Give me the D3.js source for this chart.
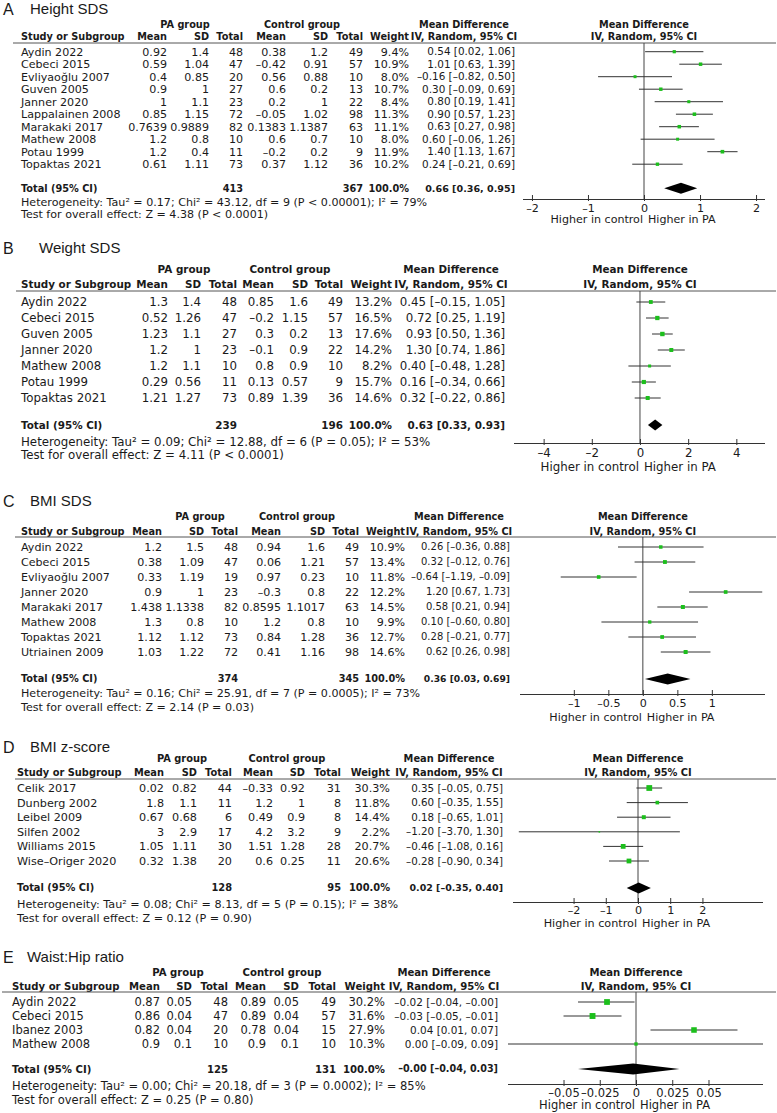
<!DOCTYPE html>
<meta charset="utf-8">
<style>
body { margin: 0; background: #fff; }
svg { display: block; }
.panel text { fill: #1a1a1a; }
.bold { font-weight: bold; }
.title { font-family: "Liberation Sans", Arial, sans-serif; }
.ci { stroke: #333; stroke-width: 1; }
.zero { stroke: #444; stroke-width: 1; }
.rule { stroke: #555; stroke-width: 1; }
.box { fill: #1cbf1c; }
.axis path, .axis line { stroke: #333; }
</style>
<body>
<script src="https://cdn.jsdelivr.net/npm/d3@7"></script>
<script>

// study rows: name, PA mean, PA SD, PA n, control mean, control SD, control n, weight %, MD, lower, upper
var heightRows = [
  ["Aydin 2022", 0.92, 1.4, 48, 0.38, 1.2, 49, 9.4, 0.54, 0.02, 1.06],
  ["Cebeci 2015", 0.59, 1.04, 47, -0.42, 0.91, 57, 10.9, 1.01, 0.63, 1.39],
  ["Evliyaoğlu 2007", 0.4, 0.85, 20, 0.56, 0.88, 10, 8.0, -0.16, -0.82, 0.50],
  ["Guven 2005", 0.9, 1, 27, 0.6, 0.2, 13, 10.7, 0.30, -0.09, 0.69],
  ["Janner 2020", 1, 1.1, 23, 0.2, 1, 22, 8.4, 0.80, 0.19, 1.41],
  ["Lappalainen 2008", 0.85, 1.15, 72, -0.05, 1.02, 98, 11.3, 0.90, 0.57, 1.23],
  ["Marakaki 2017", 0.7639, 0.9889, 82, 0.1383, 1.1387, 63, 11.1, 0.63, 0.27, 0.98],
  ["Mathew 2008", 1.2, 0.8, 10, 0.6, 0.7, 10, 8.0, 0.60, -0.06, 1.26],
  ["Potau 1999", 1.2, 0.4, 11, -0.2, 0.2, 9, 11.9, 1.40, 1.13, 1.67],
  ["Topaktas 2021", 0.61, 1.11, 73, 0.37, 1.12, 36, 10.2, 0.24, -0.21, 0.69]
];
var heightTotal = [413, 367, 0.66, 0.36, 0.95];
var heightHet = ["0.17", "43.12", 9, "P < 0.00001", 79];
var heightTest = ["4.38", "P < 0.0001"];
var heightTicks = [-2, -1, 0, 1, 2];

var weightRows = [
  ["Aydin 2022", 1.3, 1.4, 48, 0.85, 1.6, 49, 13.2, 0.45, -0.15, 1.05],
  ["Cebeci 2015", 0.52, 1.26, 47, -0.2, 1.15, 57, 16.5, 0.72, 0.25, 1.19],
  ["Guven 2005", 1.23, 1.1, 27, 0.3, 0.2, 13, 17.6, 0.93, 0.50, 1.36],
  ["Janner 2020", 1.2, 1, 23, -0.1, 0.9, 22, 14.2, 1.30, 0.74, 1.86],
  ["Mathew 2008", 1.2, 1.1, 10, 0.8, 0.9, 10, 8.2, 0.40, -0.48, 1.28],
  ["Potau 1999", 0.29, 0.56, 11, 0.13, 0.57, 9, 15.7, 0.16, -0.34, 0.66],
  ["Topaktas 2021", 1.21, 1.27, 73, 0.89, 1.39, 36, 14.6, 0.32, -0.22, 0.86]
];
var weightTotal = [239, 196, 0.63, 0.33, 0.93];
var weightHet = ["0.09", "12.88", 6, "P = 0.05", 53];
var weightTest = ["4.11", "P < 0.0001"];
var weightTicks = [-4, -2, 0, 2, 4];

var bmiRows = [
  ["Aydin 2022", 1.2, 1.5, 48, 0.94, 1.6, 49, 10.9, 0.26, -0.36, 0.88],
  ["Cebeci 2015", 0.38, 1.09, 47, 0.06, 1.21, 57, 13.4, 0.32, -0.12, 0.76],
  ["Evliyaoğlu 2007", 0.33, 1.19, 19, 0.97, 0.23, 10, 11.8, -0.64, -1.19, -0.09],
  ["Janner 2020", 0.9, 1, 23, -0.3, 0.8, 22, 12.2, 1.20, 0.67, 1.73],
  ["Marakaki 2017", 1.438, 1.1338, 82, 0.8595, 1.1017, 63, 14.5, 0.58, 0.21, 0.94],
  ["Mathew 2008", 1.3, 0.8, 10, 1.2, 0.8, 10, 9.9, 0.10, -0.60, 0.80],
  ["Topaktas 2021", 1.12, 1.12, 73, 0.84, 1.28, 36, 12.7, 0.28, -0.21, 0.77],
  ["Utriainen 2009", 1.03, 1.22, 72, 0.41, 1.16, 98, 14.6, 0.62, 0.26, 0.98]
];
var bmiTotal = [374, 345, 0.36, 0.03, 0.69];
var bmiHet = ["0.16", "25.91", 7, "P = 0.0005", 73];
var bmiTest = ["2.14", "P = 0.03"];
var bmiTicks = [-1, -0.5, 0, 0.5, 1];

var zRows = [
  ["Celik 2017", 0.02, 0.82, 44, -0.33, 0.92, 31, 30.3, 0.35, -0.05, 0.75],
  ["Dunberg 2002", 1.8, 1.1, 11, 1.2, 1, 8, 11.8, 0.60, -0.35, 1.55],
  ["Leibel 2009", 0.67, 0.68, 6, 0.49, 0.9, 8, 14.4, 0.18, -0.65, 1.01],
  ["Silfen 2002", 3, 2.9, 17, 4.2, 3.2, 9, 2.2, -1.20, -3.70, 1.30],
  ["Williams 2015", 1.05, 1.11, 30, 1.51, 1.28, 28, 20.7, -0.46, -1.08, 0.16],
  ["Wise–Origer 2020", 0.32, 1.38, 20, 0.6, 0.25, 11, 20.6, -0.28, -0.90, 0.34]
];
var zTotal = [128, 95, 0.02, -0.35, 0.40];
var zHet = ["0.08", "8.13", 5, "P = 0.15", 38];
var zTest = ["0.12", "P = 0.90"];
var zTicks = [-2, -1, 0, 1, 2];

var whrRows = [
  ["Aydin 2022", 0.87, 0.05, 48, 0.89, 0.05, 49, 30.2, -0.02, -0.04, -0.001],
  ["Cebeci 2015", 0.86, 0.04, 47, 0.89, 0.04, 57, 31.6, -0.03, -0.05, -0.01],
  ["Ibanez 2003", 0.82, 0.04, 20, 0.78, 0.04, 15, 27.9, 0.04, 0.01, 0.07],
  ["Mathew 2008", 0.9, 0.1, 10, 0.9, 0.1, 10, 10.3, 0.00, -0.09, 0.09]
];
var whrTotal = [125, 131, -0.002, -0.04, 0.03];
var whrHet = ["0.00", "20.18", 3, "P = 0.0002", 85];
var whrTest = ["0.25", "P = 0.80"];
var whrTicks = [-0.05, -0.025, 0, 0.025, 0.05];

// layout of each panel (pixel positions)
var panels = [
  { letter: "A", title: "Height SDS", rows: heightRows, total: heightTotal, het: heightHet, test: heightTest, ticks: heightTicks,
    fs: 11.1, mdK: 0.94, titleY: 9, titleX: 30, groupY: 25, headY: 37, lineY: 43, row0: 51.7, step: 12.5,
    totalY: 188.3, hetY: 202, testY: 214, axisY: 199, tickY: 208, higherY: 219,
    cols: [21, 167, 209, 243, 286, 328, 363, 409, 515], mdHead: 464, paGroup: 185, ctlGroup: 302,
    domain: [-2.16, 2.16], range: [523, 765], lineX0: 13 },
  { letter: "B", title: "Weight SDS", rows: weightRows, total: weightTotal, het: weightHet, test: weightTest, ticks: weightTicks,
    fs: 11.8, mdK: 1, titleY: 248, titleX: 39, groupY: 269, headY: 284, lineY: 291, row0: 302, step: 16,
    totalY: 425, hetY: 442, testY: 455, axisY: 443, tickY: 453, higherY: 467,
    cols: [21, 168, 201, 237, 274, 308, 343, 392, 505], mdHead: 451, paGroup: 184, ctlGroup: 290,
    domain: [-5.23, 5.19], range: [514, 765], lineX0: 16 },
  { letter: "C", title: "BMI SDS", rows: bmiRows, total: bmiTotal, het: bmiHet, test: bmiTest, ticks: bmiTicks,
    fs: 11.1, mdK: 0.9, titleY: 501, titleX: 30, groupY: 517, headY: 532, lineY: 537, row0: 547, step: 15,
    totalY: 679, hetY: 693, testY: 707, axisY: 694, tickY: 703, higherY: 717,
    cols: [21, 162, 204, 238, 281, 325, 359, 405, 510], mdHead: 459, paGroup: 200, ctlGroup: 297,
    domain: [-1.78, 1.77], range: [520, 765], lineX0: 15 },
  { letter: "D", title: "BMI z-score", rows: zRows, total: zTotal, het: zHet, test: zTest, ticks: zTicks,
    fs: 11.2, mdK: 0.92, titleY: 747, titleX: 30, groupY: 759, headY: 773, lineY: 779, row0: 788, step: 14.6,
    totalY: 888, hetY: 904, testY: 918, axisY: 902, tickY: 910, higherY: 923,
    cols: [17, 164, 197, 232, 273, 305, 341, 390, 503], mdHead: 449, paGroup: 182, ctlGroup: 287,
    domain: [-3.88, 3.88], range: [513, 763], lineX0: 15 },
  { letter: "E", title: "Waist:Hip ratio", rows: whrRows, total: whrTotal, het: whrHet, test: whrTest, ticks: whrTicks,
    fs: 11.5, mdK: 0.91, titleY: 957, titleX: 27, groupY: 972, headY: 986, lineY: 992, row0: 1002, step: 14,
    totalY: 1069, hetY: 1086, testY: 1100, axisY: 1084, tickY: 1093, higherY: 1105,
    cols: [12, 160, 192, 228, 266, 299, 336, 385, 498], mdHead: 444, paGroup: 178, ctlGroup: 282,
    domain: [-0.0883, 0.0876], range: [508, 763], lineX0: 2 }
];

var svg = d3.select("body").append("svg")
    .attr("width", 777)
    .attr("height", 1113);

// RevMan prints negatives with a dash
function num(v) { return String(v).replace("-", "\u2013"); }
function fix(v, n) { return v.toFixed(n).replace("-", "\u2013"); }
function ci(md, lo, hi) { return fix(md, 2) + " [" + fix(lo, 2) + ", " + fix(hi, 2) + "]"; }

var boldScale = 0.88;

panels.forEach(function(p) {
  var g = svg.append("g")
      .attr("class", "panel")
      .style("font-family", "'DejaVu Sans', sans-serif")
      .style("font-size", p.fs + "px");

  function label(x, y, txt, anchor, bold) {
    var t = g.append("text")
        .attr("x", x).attr("y", y).attr("dy", "0.35em")
        .attr("text-anchor", anchor || "start")
        .text(txt);
    if (bold) t.attr("class", "bold").style("font-size", (p.fs * boldScale) + "px");
    return t;
  }

  var x = d3.scaleLinear().domain(p.domain).range(p.range).clamp(true);
  var x0 = x(0);
  var c = p.cols;

  // titles
  label(3, p.titleY, p.letter).attr("class", "title").style("font-size", "16px");
  label(p.titleX, p.titleY, p.title).attr("class", "title").style("font-size", "15px");

  // column headers
  label(p.paGroup, p.groupY, "PA group", "middle", true);
  label(p.ctlGroup, p.groupY, "Control group", "middle", true);
  label(p.mdHead, p.groupY, "Mean Difference", "middle", true);
  label(x0, p.groupY, "Mean Difference", "middle", true);
  label(c[0], p.headY, "Study or Subgroup", "start", true);
  ["Mean", "SD", "Total", "Mean", "SD", "Total", "Weight"].forEach(function(h, i) {
    label(c[i + 1], p.headY, h, "end", true);
  });
  label(p.mdHead, p.headY, "IV, Random, 95% CI", "middle", true);
  label(x0, p.headY, "IV, Random, 95% CI", "middle", true);

  g.append("line").attr("class", "rule")
      .attr("x1", p.lineX0).attr("x2", 776)
      .attr("y1", p.lineY).attr("y2", p.lineY);

  // zero line
  g.append("line").attr("class", "zero")
      .attr("x1", x0).attr("x2", x0)
      .attr("y1", p.lineY).attr("y2", p.axisY);

  // study rows
  p.rows.forEach(function(r, i) {
    var y = p.row0 + i * p.step;
    label(c[0], y, r[0]);
    [1, 2, 3, 4, 5, 6].forEach(function(k) { label(c[k], y, num(r[k]), "end"); });
    label(c[7], y, fix(r[7], 1) + "%", "end");
    label(c[8], y, ci(r[8], r[9], r[10]), "end").style("font-size", (p.fs * p.mdK) + "px");

    g.append("line").attr("class", "ci")
        .attr("x1", x(r[9])).attr("x2", x(r[10]))
        .attr("y1", y).attr("y2", y);
    var s = 1.05 * Math.sqrt(r[7]);
    g.append("rect").attr("class", "box")
        .attr("x", x(r[8]) - s / 2).attr("y", y - s / 2)
        .attr("width", s).attr("height", s);
  });

  // total row
  var t = p.total;
  label(c[0], p.totalY, "Total (95% CI)", "start", true);
  label(c[3], p.totalY, t[0], "end", true);
  label(c[6], p.totalY, t[1], "end", true);
  label(c[7], p.totalY, "100.0%", "end", true);
  label(c[8], p.totalY, ci(t[2], t[3], t[4]), "end", true)
      .style("font-size", (p.fs * boldScale * Math.min(1, p.mdK + 0.04)) + "px");

  var h = 5.5;
  g.append("path")
      .attr("d", "M" + x(t[3]) + "," + p.totalY +
                 "L" + x(t[2]) + "," + (p.totalY - h) +
                 "L" + x(t[4]) + "," + p.totalY +
                 "L" + x(t[2]) + "," + (p.totalY + h) + "Z")
      .attr("fill", "#000");

  label(c[0], p.hetY, "Heterogeneity: Tau\u00b2 = " + p.het[0] + "; Chi\u00b2 = " + p.het[1] +
        ", df = " + p.het[2] + " (" + p.het[3] + "); I\u00b2 = " + p.het[4] + "%");
  label(c[0], p.testY, "Test for overall effect: Z = " + p.test[0] + " (" + p.test[1] + ")");

  // axis
  var ax = g.append("g")
      .attr("class", "axis")
      .attr("transform", "translate(0," + p.axisY + ")")
      .call(d3.axisBottom(x).tickValues(p.ticks).tickSizeOuter(0).tickFormat(num));
  ax.select(".domain").attr("d", "M" + p.range[0] + ",0.5H" + p.range[1]);
  ax.selectAll(".tick line").attr("y1", -4).attr("y2", 2);
  ax.selectAll(".tick text")
      .attr("y", p.tickY - p.axisY).attr("dy", "0.35em")
      .style("font-family", "'DejaVu Sans', sans-serif")
      .style("font-size", p.fs + "px")
      .attr("fill", "#1a1a1a");

  label(x0 - 1, p.higherY, "Higher in control", "end");
  label(x0 + 4, p.higherY, "Higher in PA", "start");
});

</script>
</body>
